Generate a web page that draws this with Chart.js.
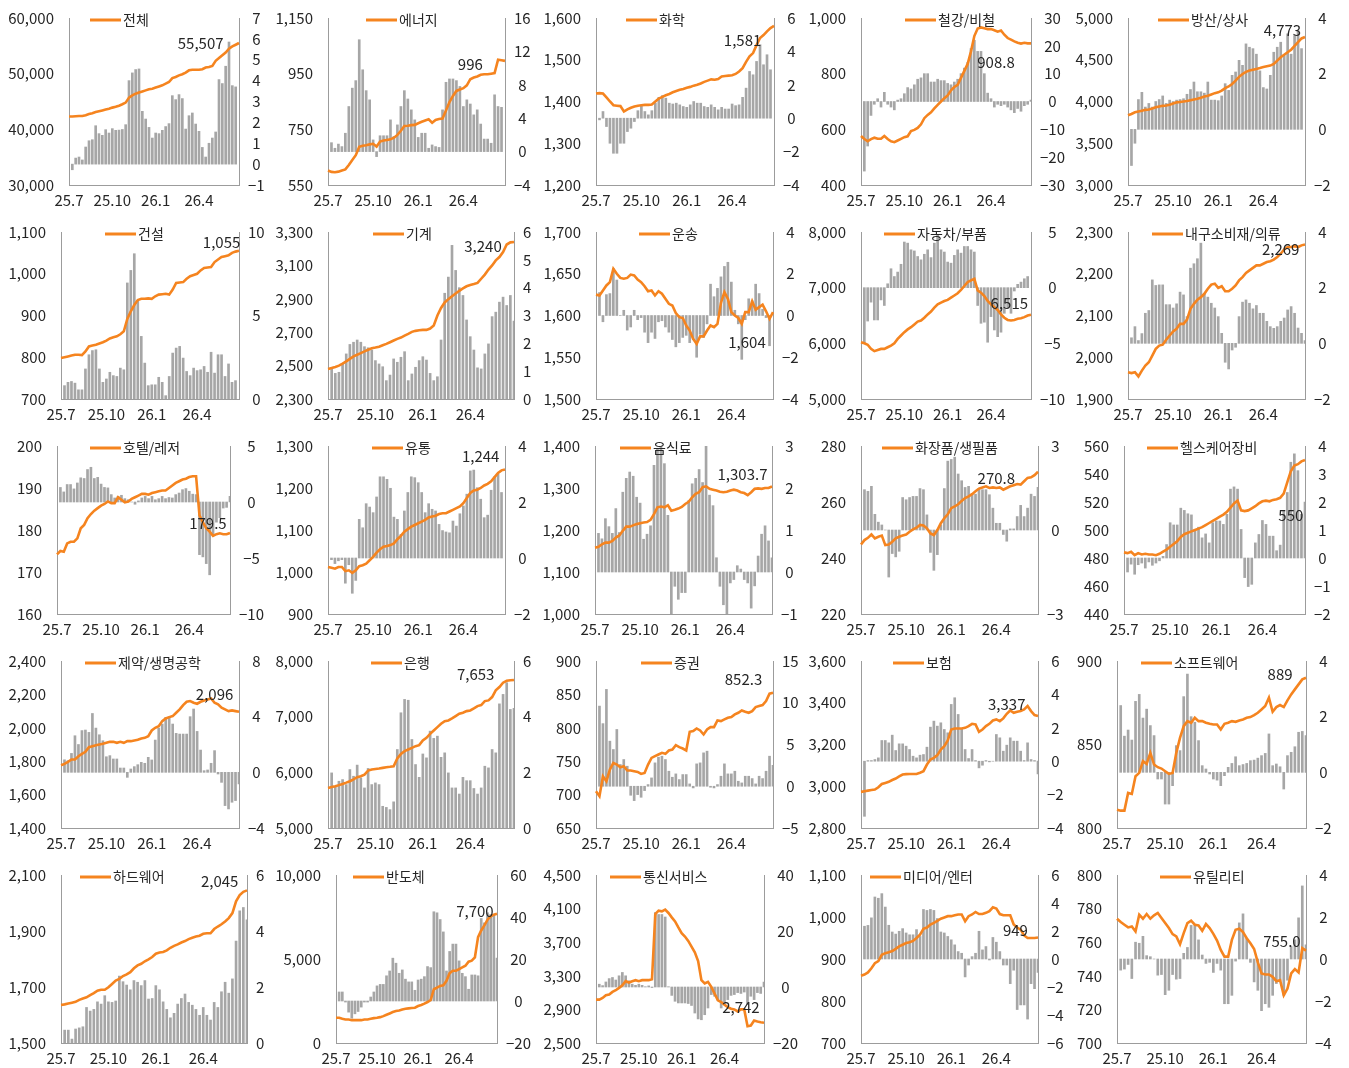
<!DOCTYPE html>
<html><head><meta charset="utf-8">
<script src="https://cdn.jsdelivr.net/npm/chart.js@4.4.1/dist/chart.umd.min.js"></script>
<style>
html,body{margin:0;padding:0;background:#fff;}
body{width:1349px;height:1068px;overflow:hidden;position:relative;}
canvas{position:absolute;}
</style></head><body>
<script>
// ---------- categories / tick labels ----------
const tickLabels = ['25.7', '25.10', '26.1', '26.4'];
const weeksPerTick = 13;
const nWeeks = 52;

// ---------- series (line = index level, left axis; bars = weekly revision %, right axis) ----------
const lineTotal = [42300,42300,42350,42400,42400,42550,42750,42900,43100,43250,43400,43550,43700,43900,44050,44250,44500,44800,45700,46100,46400,46600,46800,47000,47200,47300,47500,47700,47900,48200,48500,49200,49400,49700,49900,50200,50600,50700,50700,50700,50800,51100,51200,51400,52300,52800,53300,53800,54500,54900,55200,55507];
const barTotal = [-0.27,0.29,0.34,0.2,0.82,1.12,1.17,1.84,1.46,1.38,1.65,1.49,1.7,1.62,1.63,1.66,1.89,4.0,4.37,4.53,4.56,2.53,2.16,1.76,1.25,1.49,1.46,1.62,1.8,1.94,3.28,3.09,3.33,3.14,1.68,2.32,2.45,1.92,1.57,0.8,0.34,1.0,1.25,1.54,4.05,3.86,4.69,5.85,3.76,3.7];

const lineEnergy = [602,597,596,598,602,606,622,640,657,687,691,693,696,698,688,706,710,712,714,720,730,745,762,763,765,766,772,777,782,786,774,784,787,789,818,848,870,888,893,898,908,930,936,940,946,948,948,950,952,1000,998,996];
const barEnergy = [1.07,0.4,0.9,0.6,2.2,5.4,7.6,8.5,13.4,9.8,7.3,6.2,1.4,-0.6,1.9,1.9,1.9,3.8,1.8,3.2,5.4,7.3,6.3,5.0,3.8,1.7,2.2,2.2,0.4,0.8,0.6,0.5,5.0,8.3,8.7,8.7,8.5,7.8,5.4,6.2,5.7,4.4,5.0,3.3,1.5,1.5,1.0,6.8,5.4,5.3];

const lineChem = [1419,1420,1419,1410,1400,1391,1390,1389,1376,1381,1385,1388,1390,1391,1392,1392,1393,1400,1407,1411,1415,1418,1422,1425,1428,1430,1433,1435,1438,1440,1443,1447,1450,1453,1452,1454,1460,1461,1462,1463,1466,1472,1480,1495,1508,1516,1535,1552,1559,1568,1576,1581];
const barChem = [-0.1,0.4,-0.5,-1.5,-2.1,-2.1,-1.5,-1.5,-0.8,-0.6,-0.2,0.45,0.75,0.4,0.2,0.45,0.9,1.25,1.35,1.2,0.9,0.85,0.9,0.8,0.7,0.65,0.8,1.0,0.9,0.9,0.7,0.65,0.8,0.65,0.5,0.65,0.55,0.55,0.85,0.75,0.8,1.25,1.8,2.8,2.6,3.4,4.4,3.2,3.8,2.9];

const lineSteel = [576,565,557,565,570,566,566,576,565,557,554,560,566,572,575,594,598,605,618,640,652,661,675,688,700,712,722,740,752,760,785,810,835,880,935,962,966,963,960,960,956,951,955,940,928,922,916,911,908,911,909,909];
const barSteel = [-25,-16,-5,-1,1,-2,3.3,-1,-2,-3,0.5,1,2.8,5,4.5,6,8,8.5,10,10,7,7,8,7.5,7.5,6.5,6,7,8,10,12,14,19,22,18,18,10,3,1,-2,-1,-1.5,-1,-2,-3,-4,-2.5,-3.5,-1.5,-1,0.5];

const lineTrade = [3835,3850,3870,3880,3890,3900,3905,3915,3930,3940,3948,3952,3960,3975,3990,3995,4000,4005,4015,4025,4033,4045,4060,4070,4085,4100,4110,4130,4160,4180,4210,4250,4295,4330,4355,4370,4380,4390,4400,4412,4422,4430,4450,4490,4530,4560,4590,4620,4665,4710,4755,4773];
const barTrade = [-1.3,-0.5,1.07,1.33,0.8,0.93,0.8,1.0,1.07,1.2,0.93,1.05,1.0,1.05,1.07,1.1,1.26,1.43,1.7,1.35,1.35,1.3,1.7,1.05,1.05,1.03,1.2,1.64,1.4,1.94,2.06,2.48,2.3,3.07,2.95,2.9,2.7,2.1,1.5,1.45,1.94,2.77,2.95,3.13,2.65,3.43,2.7,3.37,3.55,2.9];

const lineConst = [798,800,802,804,806,806,805,814,826,828,830,833,836,840,845,848,850,855,862,892,910,925,937,940,940,941,940,946,950,951,952,950,962,978,979,980,988,994,997,1000,1008,1014,1015,1016,1028,1034,1040,1042,1044,1050,1053,1055];
const barConst = [0.8,1.0,1.05,0.95,0.55,0.55,1.8,2.65,2.9,2.95,1.8,1.0,1.2,1.6,1.4,1.35,1.85,1.75,6.95,7.7,8.7,5.85,3.75,2.15,0.8,0.85,0.85,1.3,1.0,0.2,1.35,2.75,3.05,3.15,2.45,1.65,1.4,1.85,1.7,1.75,1.95,1.6,2.8,1.55,2.65,2.65,1.35,2.1,1.0,1.1];

const lineMach = [2480,2485,2492,2500,2512,2525,2540,2555,2565,2575,2585,2595,2604,2608,2613,2622,2630,2640,2650,2660,2668,2680,2690,2702,2708,2712,2714,2714,2722,2740,2800,2845,2878,2898,2915,2932,2948,2962,2975,2983,2988,2995,3020,3045,3075,3100,3130,3150,3180,3225,3238,3240];
const barMach = [1.14,0.92,0.96,1.26,1.62,1.96,2.04,2.12,2.04,1.88,1.84,1.76,1.38,1.26,1.16,0.66,0.86,1.44,1.32,1.5,1.7,0.66,0.9,1.14,1.38,1.52,1.4,0.92,0.66,0.8,2.12,3.8,4.38,5.52,4.62,4.0,3.72,2.84,2.24,1.76,1.12,1.08,1.62,1.98,2.96,3.12,3.48,3.66,3.36,3.72,2.8];

const lineTrans = [1625,1624,1630,1636,1640,1656,1650,1645,1644,1645,1649,1648,1643,1640,1635,1629,1630,1624,1629,1626,1620,1614,1612,1603,1598,1597,1588,1582,1572,1566,1575,1575,1582,1588,1586,1590,1615,1628,1620,1604,1600,1597,1590,1604,1604,1617,1607,1610,1613,1605,1596,1604];
const barTrans = [1.1,-0.3,1.0,1.05,2.25,1.7,0,0.25,-0.7,-0.55,0.25,-0.2,-0.1,-0.8,-1.3,-0.8,-1.1,-0.3,-0.25,-0.55,-0.8,-1.15,-1.5,-1.3,-1.05,-0.95,-1.3,-1.15,-2.0,-0.9,-1.05,-0.4,1.5,0.9,1.3,1.85,2.35,2.55,1.6,0.25,-0.4,-2.1,-0.2,0.8,0.7,1.5,1.05,0.3,-0.1,-1.45];

const lineAuto = [6020,6000,5975,5900,5860,5880,5900,5900,5930,5960,6000,6080,6140,6200,6250,6290,6340,6390,6410,6460,6520,6570,6640,6700,6730,6760,6780,6820,6860,6900,6960,7030,7100,7130,7160,6950,6910,6850,6760,6700,6650,6600,6520,6460,6420,6410,6420,6440,6450,6470,6500,6515];
const barAuto = [-5,-3.0,-1.3,-2.9,-2.9,-1.1,-1.6,0.35,1.7,1.0,1.4,2.1,4.1,4.0,3.4,3.3,2.8,2.5,3.0,3.4,2.7,4.0,4.7,3.4,3.2,2.3,2.2,2.9,3.4,3.1,3.7,3.7,3.4,3.2,-1.6,-3.2,-3.1,-4.9,-2.6,-3.8,-4.4,-4.0,-2.3,-1.8,-2.3,-0.3,0.3,0.5,0.8,1.0];

const lineDur = [1964,1962,1964,1954,1968,1980,1988,2004,2020,2028,2030,2042,2052,2062,2068,2080,2080,2090,2116,2128,2138,2144,2152,2164,2174,2176,2166,2170,2158,2158,2164,2172,2184,2192,2202,2208,2214,2220,2220,2224,2228,2230,2234,2240,2248,2258,2264,2264,2266,2264,2268,2270];
const barDur = [0.2,0.6,0.1,0.35,1.08,1.18,2.28,2.08,2.1,2.1,1.39,1.39,1.27,1.42,1.84,1.74,0.96,2.7,2.86,3.04,3.6,1.78,1.66,1.44,1.27,0.96,0.36,-0.68,-0.92,-0.24,-0.14,0.96,1.48,1.56,1.44,1.24,1.36,1.08,1.08,0.79,0.6,0.54,0.6,0.79,0.91,1.2,1.32,1.08,0.55,0.36,0.1];

const lineHotel = [174.2,175.0,174.8,176.8,177.2,177.2,178.0,180.4,181.2,182.8,183.8,184.6,185.2,185.8,186.2,186.8,186.4,186.4,187.8,187.2,186.6,186.8,187.4,187.8,188.2,188.6,188.6,188.4,188.8,189.0,189.2,189.4,189.4,190.0,190.6,191.2,191.6,192.0,192.2,192.6,192.8,192.8,183.5,181.8,180.4,179.6,178.6,179.0,179.2,179.0,179.0,179.3];
const barHotel = [1.3,0.9,1.56,1.56,1.17,1.7,2.16,2.1,2.9,3.1,2.1,2.2,1.6,1.3,1.26,0.66,0.36,0.5,0.6,0.3,0.2,0,-0.2,0.1,0.36,0.5,0.3,0.5,0.2,0.3,0.5,0.3,0.4,0.36,0.66,0.8,1.1,1.2,0.96,0.7,0.66,-4.7,-4.9,-5.5,-6.5,-2.9,-1.8,-1.4,-0.54,-0.48,0.5];

const lineRetail = [1012,1010,1008,1012,1012,1002,1004,998,1004,1014,1016,1020,1028,1036,1046,1054,1060,1062,1064,1068,1078,1086,1096,1102,1108,1112,1116,1120,1124,1130,1132,1134,1138,1140,1140,1144,1148,1152,1156,1164,1176,1188,1194,1196,1200,1206,1210,1216,1226,1236,1242,1244];
const barRetail = [-0.06,-0.2,-0.1,-0.06,-0.9,-0.24,-1.26,-0.8,1.38,1.08,1.94,1.82,1.62,2.18,2.9,2.9,2.81,2.49,1.46,1.38,0.84,1.68,2.34,2.9,2.87,2.69,2.34,1.62,1.94,1.74,1.68,1.2,0.98,0.93,0.9,1.32,1.14,1.58,1.86,2.28,3.11,3.14,2.51,2.1,1.44,1.53,2.42,2.9,3.0,2.34];

const lineFood = [1158,1160,1166,1170,1170,1174,1182,1187,1198,1208,1208,1211,1214,1216,1218,1219,1224,1238,1254,1256,1254,1259,1246,1248,1251,1255,1262,1267,1278,1286,1290,1302,1304,1298,1296,1294,1291,1290,1291,1294,1296,1294,1290,1288,1283,1290,1298,1299,1298,1300,1300,1303.7];
const barFood = [0.92,0.79,1.27,1.08,0.92,1.51,0.94,1.9,2.23,2.38,2.28,1.78,1.64,0.78,0.9,1.1,2.54,2.94,3.2,2.58,1.35,-1.02,-0.34,-0.65,-0.49,-0.49,1.7,2.1,2.23,2.44,2.13,3.1,1.83,1.58,0.34,-0.34,-0.78,-1.02,-0.26,-0.18,0.15,0.07,-0.18,-0.26,-0.86,-0.33,0.38,0.9,1.1,0.74,0.34];

const lineCosm = [244.8,246.4,247.2,248.4,247,247.6,248,244.6,244.8,245.8,247,247.6,248,248.4,249.4,250.2,250.8,251.8,251.6,250.6,248.8,248.2,250,252.4,254.2,255.6,257.8,258.4,259.2,260.4,261.4,262,262.8,263.8,264.8,265.2,265.6,265,265.2,265,265.2,264.4,265,265.6,266,266.4,266.2,267.4,268.6,268.8,269.6,270.8];
const barCosm = [1.44,1.38,1.56,0.56,0.28,0.18,0,-1.68,-0.84,-0.96,-0.76,1.16,1.08,1.16,1.2,1.2,1.48,1.44,0.54,-0.8,-1.44,-0.88,0.18,1.48,2.46,2.52,2.6,2.0,1.76,1.52,1.56,1.28,1.28,1.48,1.44,1.44,1.26,0.78,0.24,0.24,-0.16,-0.4,0.04,0.04,0.48,0.88,0.48,0.78,1.28,1.2,1.52];

const lineHealth = [484,483.5,484.5,482,483.5,482.5,483,482.5,482.5,482,483,484.5,486,488,490,492,495,497,498,499,500,501,502,503.5,505,506.5,508,509.5,511,513,516,519,521,514,513.5,514,515.5,517,519,520.5,521,520.5,521.5,522,523,526,534,542,546,547,549,550];
const barHealth = [-0.5,-0.22,-0.58,-0.24,-0.18,-0.36,-0.14,-0.26,-0.18,-0.1,0.06,0.48,1.26,1.18,1.18,1.78,1.7,1.58,1.54,1.02,1.1,0.72,0.86,0.54,1.26,1.32,1.32,1.2,1.56,2.46,2.54,2.46,1.02,-0.7,-1.02,-0.94,0.54,0.84,1.34,1.2,0.78,0.78,0.26,0.46,1.68,2.34,3.42,3.72,3.12,1.56,2.0];

const linePharma = [1776,1784,1796,1810,1810,1830,1844,1856,1884,1890,1896,1900,1904,1910,1916,1916,1910,1916,1910,1920,1920,1924,1928,1936,1940,1950,1984,2000,2010,2040,2056,2064,2070,2090,2110,2136,2156,2160,2150,2144,2156,2164,2170,2176,2150,2140,2120,2110,2100,2104,2100,2096];
const barPharma = [0.9,0.84,1.36,2.63,2.0,3.0,3.04,2.87,4.23,3.18,2.7,2.27,1.12,1.2,0.96,0.96,0.31,0.31,-0.36,0.24,0.41,0.55,0.72,0.65,1.08,0.89,2.32,3.18,3.47,3.95,4.0,3.47,2.8,2.75,2.75,2.75,4.0,4.55,2.94,1.6,0.12,0.17,0.65,1.56,-0.12,-0.72,-2.39,-2.63,-2.15,-2.03,-0.84];

const lineBank = [5720,5735,5750,5770,5792,5815,5840,5875,5912,5930,5960,6032,6050,6060,6068,6080,6092,6100,6110,6248,6332,6380,6410,6440,6470,6488,6572,6620,6692,6752,6812,6872,6920,6932,6968,7010,7052,7070,7100,7112,7148,7190,7208,7280,7292,7352,7472,7532,7610,7645,7653,7660];
const barBank = [1.98,1.5,1.68,1.74,1.56,2.1,1.86,2.26,1.8,1.44,2.14,1.56,1.62,1.56,0.78,0.74,0.66,0.94,2.82,4.14,4.62,4.59,3.18,2.28,1.82,2.66,2.52,3.48,3.22,3.3,2.54,2.7,1.98,1.44,1.44,1.22,1.82,1.7,1.7,1.42,1.22,1.44,2.22,2.16,2.82,2.7,4.46,4.8,5.22,4.26,4.3];

const lineSec = [705,697.5,727.5,720,737.5,747.5,745,741,742.5,736,736,735,734,731,732.5,745,755,757.5,760,762.5,761,766,767.5,774,771,769,766,794,795,799,796,790,797.5,801,801,811,810,812.5,815,816,820,822.5,826,824,822.5,825,831,832.5,834,840,851,852.3];
const barSec = [9.6,7.5,11.6,5.4,4.4,6.8,2.6,3.2,2.4,-1.08,-1.72,-1.0,-1.32,-0.52,0.2,1.0,2.8,3.48,3.6,3.2,1.8,1.08,1.48,0.8,1.4,1.4,0.28,-0.2,2.68,2.8,4.0,4.2,-0.12,-0.2,0.2,1.2,2.68,1.48,1.48,1.8,0.6,0.4,1.2,1.2,0.92,0.28,1.2,0.92,1.8,3.6,2.52];

const lineIns = [2973,2976,2979,2982,2984,2995,3011,3016,3021,3030,3037,3047,3056,3058,3059,3059,3059,3065,3072,3104,3128,3136,3149,3176,3192,3219,3272,3277,3277,3277,3280,3288,3299,3296,3261,3272,3288,3299,3315,3320,3312,3325,3347,3363,3352,3357,3360,3368,3384,3360,3341,3337];
const barIns = [-3.3,0.04,0.04,0.1,0.2,1.24,1.24,1.1,1.56,0.64,1.04,1.04,0.9,0.7,0.3,0.2,0.36,0.4,0.84,2.04,2.4,2.1,2.3,1.9,1.7,3.4,3.8,2.8,1.96,0.7,0.16,0.7,0.04,-0.4,-0.24,0.04,-0.04,0.0,1.6,1.4,0.6,0.96,1.4,1.2,1.2,0.6,0.04,1.1,0.1,0.04,-0.76];

const lineSw = [811,810.4,810.4,821,820.4,831,833,840,838.4,845,838,836.4,835.6,834,832.4,833,845,854,861,864,863,866,864,864,863,862.4,862,862,859,862.4,863,864,863.6,864.4,865,866,866.4,867.6,869,871,873,878,869.6,872.4,873.6,872.4,876.4,880,883,886,889,890];
const barSw = [2.4,1.3,1.52,1.16,2.55,2.8,1.95,2.27,1.68,1.32,-0.24,-0.24,-1.14,-1.14,-0.48,0.96,0.78,2.72,3.53,2.0,1.8,1.14,0.24,0.12,-0.06,-0.24,-0.28,-0.48,-0.12,0.18,0.32,0.56,0.24,0.28,0.32,0.42,0.44,0.51,0.6,0.68,1.38,0.24,0.3,0.2,-0.6,0.6,0.72,0.92,1.44,1.47,1.32];

const lineHw = [1636,1638,1641,1644,1647,1654,1659,1663,1671,1678,1687,1690,1690,1699,1711,1723,1729,1739,1745,1753,1767,1777,1783,1792,1799,1807,1819,1823,1825,1831,1840,1847,1852,1859,1864,1871,1876,1880,1883,1890,1892,1892,1907,1916,1924,1934,1946,1964,2006,2028,2040,2045];
const barHw = [0.46,0.46,0.14,0.5,0.54,0.58,1.27,1.14,1.2,1.47,1.39,1.69,1.47,1.45,1.5,2.39,2.19,2.07,1.9,2.23,2.17,2.05,2.23,1.57,1.59,2.05,1.9,1.47,1.2,0.9,1.06,1.39,1.59,1.75,1.45,1.35,1.2,0.99,1.27,0.99,0.82,1.45,1.27,1.83,2.17,1.78,2.29,3.64,4.72,4.84,4.4];

const lineSemi = [1500,1500,1440,1400,1400,1360,1360,1360,1360,1400,1400,1440,1480,1500,1540,1600,1680,1760,1840,1900,1940,2000,2040,2060,2080,2100,2200,2260,2340,2440,2560,3200,3300,3400,3440,3700,4160,4300,4300,4400,4500,4600,4840,4900,5100,6300,6700,7000,7340,7540,7640,7700];
const barSemi = [4.3,4.3,-0.5,-5.3,-8.2,-6.1,-5.0,-2.9,-0.5,-0.5,1.9,4.3,7.2,7.9,7.9,12.0,14.3,20.4,18,13.2,14.8,10.4,9.1,9.1,5.1,10.0,10.4,11.6,16.4,15.9,42.5,42,38.8,32.9,14.3,23.6,27.1,27.1,19.1,13.2,11.6,5.6,12.4,12.4,12.0,39.3,37.2,42,41.2,41.2,20.4];

const lineTel = [3016,3016,3036,3068,3076,3108,3128,3156,3188,3236,3220,3236,3248,3236,3248,3248,3248,3260,4036,4076,4068,4088,4048,3996,3948,3876,3808,3768,3716,3648,3580,3476,3248,3208,3228,3168,3088,3008,2988,2956,2928,2908,2900,2876,2900,2900,2700,2708,2768,2756,2748,2742];
const barTel = [1,0.5,1.8,3.0,3.4,2.5,4.0,5.2,4.0,2.2,1.0,0.6,1.0,0.6,0.1,0.4,-0.2,26.6,25.9,25.9,25,0.1,-3.0,-5.1,-5.7,-5.7,-5.7,-5.9,-6.6,-9.3,-11.4,-11.7,-9.9,-7.5,-2.7,-3.3,-4.7,-7.5,-6.3,-4.5,-3.0,-2.7,-2.0,-2.3,-1.8,-6.3,-3.3,-4.5,-2.0,-2.3,1.8];

const lineMedia = [860,863,868,878,890,895,910,914,916,919,924,930,934,938,940,943,950,958,972,975,982,986,991,996,999,1002,1002,1004,1006,1006,990,1002,1006,1012,1007,1007,1010,1014,1023,1020,1007,1004,1004,1004,982,975,970,956,950,950,950,951];
const barMedia = [2.34,2.4,2.94,4.43,4.34,4.67,3.71,2.41,1.93,1.78,1.98,2.17,1.86,1.73,1.73,2.1,1.61,3.54,3.47,3.54,3.47,2.89,1.93,1.86,1.61,1.37,1.01,0.53,0.41,-1.28,-0.43,0.17,0.41,1.98,0.65,0.89,-0.07,1.54,1.2,0.53,-0.43,-0.43,-1.76,-0.8,-3.61,-3.28,-3.28,-4.29,-1.76,-2.12,-0.96];

const lineUtil = [774,772,770.4,768.8,769.4,766.4,776.4,774,776.8,774,776,777.4,774.4,771.4,768.4,764.8,763.4,758.8,765.4,771.4,772.8,770.4,770,766.8,770.8,768.4,765,761,755.4,751.4,751.4,761.4,767.4,768,766,762.4,759.4,756,748,741.4,740.8,740.8,739.4,736.8,737.4,728.4,732.4,741.4,744,742,756.4,755];
const barUtil = [-0.53,-0.48,-0.26,-0.93,0.8,0.75,1.08,0.16,0.11,0,-0.77,-0.74,-1.7,-1.49,-0.74,-0.96,-0.93,0.27,0.55,1.6,1.6,0.91,0.19,-0.21,-0.16,-0.64,-0.21,-0.53,-2.13,-2.13,-1.73,-0.1,1.72,2.15,1.0,-0.16,-1.09,-1.49,-2.46,-2.13,-2.3,-1.73,-1.17,-1.06,-1.73,-1.01,0.59,0.91,1.96,3.48,0.67];

// ---------- panel definitions (title, series, axis ranges [min,max,step], value label [text, week, level]) ----------
const panels = [
  {title:'전체', line:lineTotal, bars:barTotal, y:[30000,60000,10000], y2:[-1,7,1], note:['55,507',39.5,55500]},
  {title:'에너지', line:lineEnergy, bars:barEnergy, y:[550,1150,200], y2:[-4,16,4], note:['996',41,985]},
  {title:'화학', line:lineChem, bars:barChem, y:[1200,1600,100], y2:[-4,6,2], note:['1,581',42,1547]},
  {title:'철강/비철', line:lineSteel, bars:barSteel, y:[400,1000,200], y2:[-30,30,10], note:['908.8',40.5,842]},
  {title:'방산/상사', line:lineTrade, bars:barTrade, y:[3000,5000,500], y2:[-2,4,2], note:['4,773',44.5,4856]},
  {title:'건설', line:lineConst, bars:barConst, y:[700,1100,100], y2:[0,10,5], note:['1,055',46,1076]},
  {title:'기계', line:lineMach, bars:barMach, y:[2300,3300,200], y2:[0,6,1], note:['3,240',42.5,3216]},
  {title:'운송', line:lineTrans, bars:barTrans, y:[1500,1700,50], y2:[-4,4,2], note:['1,604',43.5,1568]},
  {title:'자동차/부품', line:lineAuto, bars:barAuto, y:[5000,8000,1000], y2:[-10,5,5], note:['6,515',44.5,6725]},
  {title:'내구소비재/의류', line:lineDur, bars:barDur, y:[1900,2300,100], y2:[-2,4,2], note:['2,269',44,2259]},
  {title:'호텔/레저', line:lineHotel, bars:barHotel, y:[160,200,10], y2:[-10,5,5], note:['179.5',44.5,181.7]},
  {title:'유통', line:lineRetail, bars:barRetail, y:[900,1300,100], y2:[-2,4,2], note:['1,244',44,1276]},
  {title:'음식료', line:lineFood, bars:barFood, y:[1000,1400,100], y2:[-1,3,1], note:['1,303.7',42.5,1333]},
  {title:'화장품/생필품', line:lineCosm, bars:barCosm, y:[220,280,20], y2:[-3,3,3], note:['270.8',39,268.6]},
  {title:'헬스케어장비', line:lineHealth, bars:barHealth, y:[440,560,20], y2:[-2,4,1], note:['550',47,510.7]},
  {title:'제약/생명공학', line:linePharma, bars:barPharma, y:[1400,2400,200], y2:[-4,8,4], note:['2,096',44,2202]},
  {title:'은행', line:lineBank, bars:barBank, y:[5000,8000,1000], y2:[0,6,2], note:['7,653',40.5,7766]},
  {title:'증권', line:lineSec, bars:barSec, y:[650,900,50], y2:[-5,15,5], note:['852.3',42.5,873]},
  {title:'보험', line:lineIns, bars:barIns, y:[2800,3600,200], y2:[-4,6,2], note:['3,337',42,3394]},
  {title:'소프트웨어', line:lineSw, bars:barSw, y:[800,900,50], y2:[-2,4,2], note:['889',44,892]},
  {title:'하드웨어', line:lineHw, bars:barHw, y:[1500,2100,200], y2:[0,6,2], note:['2,045',43.5,2079]},
  {title:'반도체', line:lineSemi, bars:barSemi, y:[0,10000,5000], y2:[-20,60,20], note:['7,700',44,7857]},
  {title:'통신서비스', line:lineTel, bars:barTel, y:[2500,4500,400], y2:[-20,40,20], note:['2,742',44,2929]},
  {title:'미디어/엔터', line:lineMedia, bars:barMedia, y:[700,1100,100], y2:[-6,6,2], note:['949',44.5,969]},
  {title:'유틸리티', line:lineUtil, bars:barUtil, y:[700,800,20], y2:[-4,4,2], note:['755.0',44.5,760.7]}
];

// ---------- layout (page pixels) ----------
const ROW_TOP = [18, 232, 446, 661, 875];
const ROW_BOT = [185, 399, 614, 828, 1043];
const PLOT_X = [
  [69,238.5],[328,505],[596,774],[861,1031],[1128,1305],
  [61,238.5],[328,514],[596,773],[861,1031],[1128,1305],
  [57,230],[328,505],[595,772],[861,1038],[1124,1305],
  [61,238.5],[328,514],[596,773],[861,1038],[1116.5,1305],
  [61,246.5],[336,496.5],[596,763.5],[861,1038],[1116.5,1305]
];
const LEGEND_X = [21,38,30,44,30, 44,45,43,23,24, 33,44,25,21,23, 24,43,45,32,24, 19,17,14,9,43];

const ORANGE = '#F5841F', GRAY = '#A6A6A6', AXIS = '#9C9C9C', TXT = '#262626';
const FAMILY = '"Noto Sans CJK KR","Noto Sans",sans-serif';
Chart.defaults.font.family = FAMILY;
Chart.defaults.font.size = 15;
Chart.defaults.color = TXT;

const LW = 80, RW = 50, TP = 14, BH = 32;

const cats = [];
for (let i = 0; i < nWeeks; i++) cats.push(i % weeksPerTick === 0 ? tickLabels[i / weeksPerTick] : '');

const fmtLeft = v => Number(v).toLocaleString('en-US');
const fmtRight = v => (v < 0 ? '\u2212' + Math.abs(v) : String(v));

const decor = {
  id: 'decor',
  afterDatasetsDraw(chart, args, o) {
    const {ctx, chartArea: a, scales} = chart;
    ctx.save();
    const x0 = a.left + o.legendX, yl = a.top + 2;
    ctx.strokeStyle = ORANGE; ctx.lineWidth = 3;
    ctx.beginPath(); ctx.moveTo(x0, yl); ctx.lineTo(x0 + 31, yl); ctx.stroke();
    ctx.font = '14px ' + FAMILY; ctx.fillStyle = TXT;
    ctx.textBaseline = 'middle'; ctx.textAlign = 'left';
    ctx.fillText(o.title, x0 + 33, yl);
    if (o.note) {
      ctx.font = '15px ' + FAMILY;
      ctx.textAlign = 'center';
      ctx.fillText(o.note[0], scales.x.getPixelForValue(o.note[1]), scales.y.getPixelForValue(o.note[2]));
    }
    ctx.restore();
  }
};

panels.forEach((p, k) => {
  const r = Math.floor(k / 5);
  const [pl, pr] = PLOT_X[k];
  const pt = ROW_TOP[r], pb = ROW_BOT[r];
  const W = Math.round(pr - pl) + LW + RW;
  const H = (pb - pt) + TP + BH;
  const cv = document.createElement('canvas');
  cv.width = W; cv.height = H;
  cv.style.width = W + 'px'; cv.style.height = H + 'px';
  cv.style.left = (pl - LW) + 'px'; cv.style.top = (pt - TP) + 'px';
  document.body.appendChild(cv);

  const barData = [null].concat(p.bars);
  while (barData.length < nWeeks) barData.push(null);

  new Chart(cv, {
    data: {
      labels: cats,
      datasets: [
        {type: 'line', data: p.line, yAxisID: 'y', borderColor: ORANGE, borderWidth: 2.6,
         pointRadius: 0, tension: 0, fill: false, order: 0},
        {type: 'bar', data: barData.slice(0, nWeeks), yAxisID: 'y2', backgroundColor: GRAY,
         barThickness: 2, order: 1}
      ]
    },
    options: {
      responsive: false, animation: false, devicePixelRatio: 1, events: [],
      layout: {padding: {top: TP, left: 0, right: 0, bottom: 0}},
      plugins: {legend: {display: false}, tooltip: {enabled: false},
        decor: {title: p.title, legendX: LEGEND_X[k], note: p.note}},
      scales: {
        x: {type: 'category', offset: false,
            grid: {display: false, drawTicks: false},
            border: {display: true, color: AXIS, width: 1},
            ticks: {autoSkip: false, maxRotation: 0, minRotation: 0, padding: 6},
            afterFit: s => { s.height = BH; s.paddingLeft = 0; s.paddingRight = 0; }},
        y: {position: 'left', min: p.y[0], max: p.y[1],
            grid: {display: false, drawTicks: false},
            border: {display: true, color: AXIS, width: 1},
            ticks: {stepSize: p.y[2], autoSkip: false, padding: 15, callback: fmtLeft},
            afterFit: s => { s.width = LW; s.paddingTop = 0; s.paddingBottom = 0; }},
        y2: {position: 'right', min: p.y2[0], max: p.y2[1],
            grid: {display: false, drawTicks: false},
            border: {display: true, color: AXIS, width: 1},
            ticks: {stepSize: p.y2[2], autoSkip: false, padding: 9, crossAlign: 'center', callback: fmtRight},
            afterFit: s => { s.width = RW; s.paddingTop = 0; s.paddingBottom = 0; }}
      }
    },
    plugins: [decor]
  });
});
</script>
</body></html>
